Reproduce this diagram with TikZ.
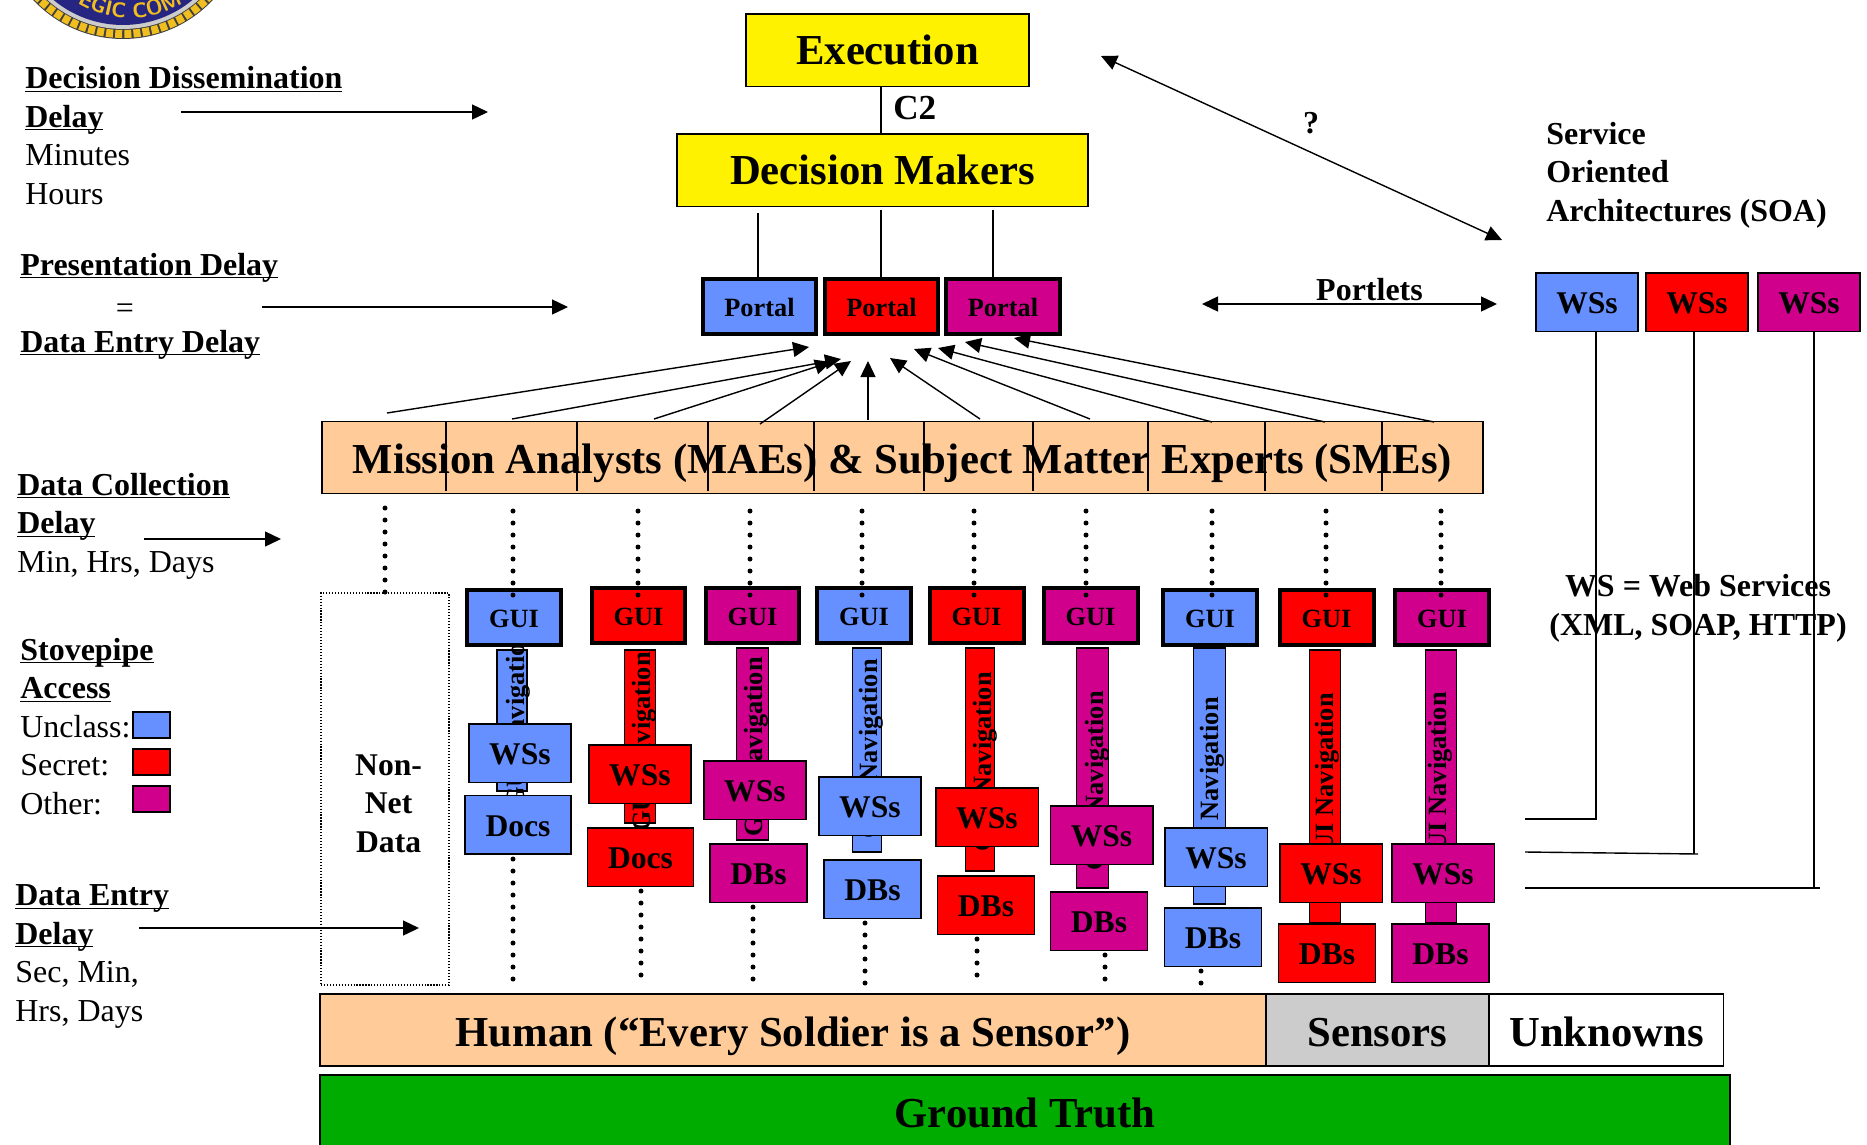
\documentclass[tikz,border=0pt]{standalone}
\usepackage{fontspec}
\setmainfont{Liberation Serif}
\usetikzlibrary{arrows.meta, decorations.text}
\definecolor{unclass}{RGB}{102, 144, 255}
\definecolor{secret}{RGB}{255, 0, 0}
\definecolor{other}{RGB}{208, 0, 140}
\definecolor{peach}{RGB}{255, 204, 153}
\definecolor{sensgray}{RGB}{204, 204, 204}
\definecolor{truthgreen}{RGB}{0, 172, 0}
\definecolor{sealblue}{RGB}{38, 38, 130}
\definecolor{sealgold}{RGB}{240, 190, 30}
\newcommand{\bul}[1]{\underline{\smash{\textbf{#1}}}}
\tikzset{
  base box/.style={draw=black, rectangle, inner sep=0pt, outer sep=0pt, text depth=0pt},
  big box/.style={base box, line width=.03cm, text height=18.2pt, font=\fontsize{24.3}{29}\selectfont\bfseries},
  gui box/.style={base box, fill=#1, line width=.08cm, minimum width=1.88cm, minimum height=1.1cm, text height=12.5pt, font=\fontsize{15}{18}\selectfont\bfseries},
  portal box/.style={gui box=#1, minimum width=2.28cm},
  ws box/.style={base box, fill=#1, line width=.03cm, minimum width=2.05cm, minimum height=1.17cm, text height=13.5pt, font=\fontsize{18}{22}\selectfont\bfseries},
  db box/.style={ws box=#1, minimum width=1.94cm},
  doc box/.style={ws box=#1, minimum width=2.12cm},
  nav strip/.style={draw=black, fill=#1, rectangle, line width=.03cm, inner sep=0pt, outer sep=0pt},
  nav text/.style={rotate=90, anchor=base, inner sep=0pt, font=\fontsize{15}{18}\selectfont\bfseries},
  swatch/.style={draw=black, fill=#1, line width=.04cm, minimum width=.74cm, minimum height=.52cm, inner sep=0pt},
  side text/.style={anchor=base west, align=left, inner sep=0pt, font=\fontsize{18.2}{21.9}\selectfont},
  head text/.style={side text, font=\fontsize{18.2}{21.9}\selectfont\bfseries},
  conn/.style={line width=.028cm, draw=black},
  tip/.style={conn, -{Triangle[length=.32cm, width=.3cm]}},
  two tip/.style={conn, {Triangle[length=.32cm, width=.3cm]}-{Triangle[length=.32cm, width=.3cm]}},
  dot line/.style={line width=.1cm, line cap=round, dash pattern=on 0pt off .24cm},
}
\begin{document}
\begin{tikzpicture}[x=0.02cm, y=-0.02cm]
  \useasboundingbox (0,0) rectangle (1867,1144);

  % Seal, cut by the top edge
  \begin{scope}
    \clip (0,0) rectangle (300,60);
    \fill[black!75] (123,-84) circle (2.46cm);
    \draw[sealgold, line width=.16cm, dash pattern=on 4pt off 1.2pt] (123,-84) circle (2.36cm);
    \fill[black!20] (123,-84) circle (2.26cm);
    \fill[sealblue] (123,-84) circle (2.18cm);
    \path[decorate, decoration={text along path, text align=center, text={|\fontsize{12}{14}\selectfont\sffamily\bfseries\color{sealgold}|EGIC COM}}]
      (40,-36) .. controls (78.4,36) and (181.6,36) .. (220,-36);
  \end{scope}

  % Top of the chain
  \node[big box, fill=yellow, text height=17pt, minimum width=5.67cm, minimum height=1.45cm] (exec) at (887.5,50) {Execution};
  \node[big box, fill=yellow, text height=17pt, minimum width=8.23cm, minimum height=1.45cm] (dmakers) at (882.5,170) {Decision Makers};
  \node[inner sep=0pt, anchor=base west, font=\fontsize{20}{24}\selectfont\bfseries] (ctwo) at (893,119) {C2};
  \draw[conn] (exec.south -| 881,0) -- (dmakers.north -| 881,0);

  % Portals
  \node[portal box=unclass] (portal1) at (759.5,306) {Portal};
  \node[portal box=secret] (portal2) at (881.5,306) {Portal};
  \node[portal box=other] (portal3) at (1003,306) {Portal};
  \coordinate (feed1) at (758,213);
  \coordinate (feed2) at (881,210);
  \coordinate (feed3) at (993,210);
  \draw[conn] (feed1) -- (feed1 |- portal1.north);
  \draw[conn] (feed2) -- (feed2 |- portal2.north);
  \draw[conn] (feed3) -- (feed3 |- portal3.north);

  % Analysts bar
  \node[big box, fill=peach, line width=.03cm, minimum width=23.22cm, minimum height=1.44cm] (mae) at (902.5,457.5) {Mission Analysts (MAEs) \& Subject Matter Experts (SMEs)};
  \draw[line width=.024cm] (446,421) -- (446,491) (577,421) -- (577,491) (708,421) -- (708,491) (814,421) -- (814,491) (924,421) -- (924,491) (1033,421) -- (1033,491) (1148,421) -- (1148,491) (1265,421) -- (1265,491) (1382,421) -- (1382,491);

  % Arrows up to the portals
  \coordinate (from1) at (387,413); \coordinate (to1) at (809,347);
  \coordinate (from2) at (512,419); \coordinate (to2) at (841,359);
  \coordinate (from3) at (654,419); \coordinate (to3) at (831,362);
  \coordinate (from4) at (760,424); \coordinate (to4) at (851,361);
  \coordinate (from5) at (868,420); \coordinate (to5) at (868,361);
  \coordinate (from6) at (980,419); \coordinate (to6) at (890,358);
  \coordinate (from7) at (1090,419); \coordinate (to7) at (914,349);
  \coordinate (from8) at (1212,422); \coordinate (to8) at (938,348);
  \coordinate (from9) at (1325,422); \coordinate (to9) at (965,342);
  \coordinate (from10) at (1434,422); \coordinate (to10) at (1014,338);
  \draw[tip] (from1) -- (to1);
  \draw[tip] (from2) -- (to2);
  \draw[tip] (from3) -- (to3);
  \draw[tip] (from4) -- (to4);
  \draw[tip] (from5) -- (to5);
  \draw[tip] (from6) -- (to6);
  \draw[tip] (from7) -- (to7);
  \draw[tip] (from8) -- (to8);
  \draw[tip] (from9) -- (to9);
  \draw[tip] (from10) -- (to10);

  % Non-net data
  \node[draw=black, densely dotted, line width=.024cm, minimum width=2.56cm, minimum height=7.84cm, inner sep=0pt] (nonnet) at (385,789) {};
  \node[anchor=base, align=center, inner sep=0pt, font=\fontsize{18}{21.9}\selectfont\bfseries] (nonnettext) at (388.6,852) {Non-\\Net\\Data};
  \coordinate (nonnetdot) at (385,592);
  \draw[dot line, shorten >=.27cm] (nonnetdot) -- (mae.south -| nonnetdot);

  % Navigation strips
  \node[nav strip=unclass, minimum width=.6cm, minimum height=2.82cm] (nav1) at (512,720.5) {};
  \node[nav text] (navtext1) at (524,718) {GUI Navigation};
  \node[nav strip=secret, minimum width=.62cm, minimum height=3.46cm] (nav2) at (640,736.5) {};
  \node[nav text] (navtext2) at (650,742) {GUI Navigation};
  \node[nav strip=other, minimum width=.64cm, minimum height=3.84cm] (nav3) at (752.5,744) {};
  \node[nav text] (navtext3) at (762,747) {GUI Navigation};
  \node[nav strip=unclass, minimum width=.58cm, minimum height=4.08cm] (nav4) at (867,750) {};
  \node[nav text] (navtext4) at (877,749) {GUI Navigation};
  \node[nav strip=secret, minimum width=.58cm, minimum height=4.46cm] (nav5) at (980,759.5) {};
  \node[nav text] (navtext5) at (991,762) {GUI Navigation};
  \node[nav strip=other, minimum width=.64cm, minimum height=4.8cm] (nav6) at (1092.5,768) {};
  \node[nav text] (navtext6) at (1103,781) {GUI Navigation};
  \node[nav strip=unclass, minimum width=.64cm, minimum height=5.12cm] (nav7) at (1209.5,776) {};
  \node[nav text] (navtext7) at (1218,787) {GUI Navigation};
  \node[nav strip=secret, minimum width=.62cm, minimum height=5.46cm] (nav8) at (1325,786.5) {};
  \node[nav text] (navtext8) at (1333,783) {GUI Navigation};
  \node[nav strip=other, minimum width=.62cm, minimum height=5.46cm] (nav9) at (1441,786.5) {};
  \node[nav text] (navtext9) at (1446,782) {GUI Navigation};

  % Stovepipes
  \node[gui box=unclass] (gui1) at (514,617) {GUI};
  \node[ws box=unclass] (ws1) at (520,753) {WSs};
  \node[doc box=unclass] (doc1) at (518,824.5) {Docs};
  \node[gui box=secret] (gui2) at (638.5,615) {GUI};
  \node[ws box=secret] (ws2) at (640,774) {WSs};
  \node[doc box=secret] (doc2) at (640.5,857) {Docs};
  \node[gui box=other] (gui3) at (752.5,615) {GUI};
  \node[ws box=other] (ws3) at (755,790) {WSs};
  \node[db box=other] (db3) at (758.5,873) {DBs};
  \node[gui box=unclass] (gui4) at (864,615) {GUI};
  \node[ws box=unclass] (ws4) at (870,806) {WSs};
  \node[db box=unclass] (db4) at (872.5,889) {DBs};
  \node[gui box=secret] (gui5) at (976.5,615) {GUI};
  \node[ws box=secret] (ws5) at (987,817) {WSs};
  \node[db box=secret] (db5) at (986,905) {DBs};
  \node[gui box=other] (gui6) at (1090.5,615) {GUI};
  \node[ws box=other] (ws6) at (1101.5,835) {WSs};
  \node[db box=other] (db6) at (1099,921) {DBs};
  \node[gui box=unclass] (gui7) at (1210,617) {GUI};
  \node[ws box=unclass] (ws7) at (1216,857) {WSs};
  \node[db box=unclass] (db7) at (1213,937) {DBs};
  \node[gui box=secret] (gui8) at (1326.5,617) {GUI};
  \node[ws box=secret] (ws8) at (1331,873) {WSs};
  \node[db box=secret] (db8) at (1327,953) {DBs};
  \node[gui box=other] (gui9) at (1442,617) {GUI};
  \node[ws box=other] (ws9) at (1443,873) {WSs};
  \node[db box=other] (db9) at (1440.5,953) {DBs};

  % Dots from the bar down to each GUI
  \coordinate (dotgui1) at (513,595); \draw[dot line, shorten >=.27cm] (dotgui1) -- (mae.south -| dotgui1);
  \coordinate (dotgui2) at (638,595); \draw[dot line, shorten >=.27cm] (dotgui2) -- (mae.south -| dotgui2);
  \coordinate (dotgui3) at (750,595); \draw[dot line, shorten >=.27cm] (dotgui3) -- (mae.south -| dotgui3);
  \coordinate (dotgui4) at (862,595); \draw[dot line, shorten >=.27cm] (dotgui4) -- (mae.south -| dotgui4);
  \coordinate (dotgui5) at (974,595); \draw[dot line, shorten >=.27cm] (dotgui5) -- (mae.south -| dotgui5);
  \coordinate (dotgui6) at (1086,595); \draw[dot line, shorten >=.27cm] (dotgui6) -- (mae.south -| dotgui6);
  \coordinate (dotgui7) at (1212,595); \draw[dot line, shorten >=.27cm] (dotgui7) -- (mae.south -| dotgui7);
  \coordinate (dotgui8) at (1326,595); \draw[dot line, shorten >=.27cm] (dotgui8) -- (mae.south -| dotgui8);
  \coordinate (dotgui9) at (1441,595); \draw[dot line, shorten >=.27cm] (dotgui9) -- (mae.south -| dotgui9);

  % Dots below the stores
  \coordinate (dotlow1) at (513,979); \draw[dot line] (dotlow1) -- (doc1.south -| dotlow1);
  \coordinate (dotlow2) at (641,975); \draw[dot line] (dotlow2) -- (doc2.south -| dotlow2);
  \coordinate (dotlow3) at (753,979); \draw[dot line] (dotlow3) -- (db3.south -| dotlow3);
  \coordinate (dotlow4) at (865,983); \draw[dot line] (dotlow4) -- (db4.south -| dotlow4);
  \coordinate (dotlow5) at (977,975); \draw[dot line] (dotlow5) -- (db5.south -| dotlow5);
  \coordinate (dotlow6) at (1105,979); \draw[dot line] (dotlow6) -- (db6.south -| dotlow6);
  \coordinate (dotlow7) at (1201,983); \draw[dot line] (dotlow7) -- (db7.south -| dotlow7);

  % Sources
  \node[big box, fill=peach, minimum width=18.92cm, minimum height=1.44cm] (human) at (793,1030) {Human (``Every Soldier is a Sensor'')};
  \node[big box, fill=sensgray, minimum width=4.46cm, minimum height=1.44cm] (sensors) at (1377.5,1030) {Sensors};
  \node[big box, fill=white, minimum width=4.68cm, minimum height=1.44cm] (unknowns) at (1606.5,1030) {Unknowns};
  \node[big box, fill=truthgreen, text height=19pt, minimum width=28.2cm, minimum height=1.42cm] (truth) at (1025,1110.5) {Ground Truth};

  % Service side
  \node[head text] (soa) at (1546,221) {Service\\Oriented\\Architectures (SOA)};
  \node[ws box=unclass, minimum width=2.04cm] (rws1) at (1587,302) {WSs};
  \node[ws box=secret, minimum width=2.04cm] (rws2) at (1697,302) {WSs};
  \node[ws box=other, minimum width=2.04cm] (rws3) at (1809,302) {WSs};
  \node[inner sep=0pt, anchor=base, font=\fontsize{18.2}{21.9}\selectfont\bfseries] (portlets) at (1369.5,300) {Portlets};
  \coordinate (portletl) at (1202,304);
  \coordinate (portletr) at (1497,304);
  \draw[two tip] (portletl) -- (portletr);
  \coordinate (askl) at (1101,56);
  \coordinate (askr) at (1502,240);
  \draw[two tip] (askl) -- (askr);
  \node[inner sep=0pt, anchor=base, font=\fontsize{18.2}{21.9}\selectfont\bfseries] (ask) at (1311,133) {?};

  % Links from the stovepipes to the services
  \coordinate (link1) at (1525,819); \coordinate (bend1) at (1596,819);
  \coordinate (link2) at (1525,852); \coordinate (bend2) at (1698,854); \coordinate (rise2) at (1694,854);
  \coordinate (link3) at (1525,888); \coordinate (bend3) at (1820,888); \coordinate (rise3) at (1814,888);
  \draw[conn] (link1) -- (bend1) -- (bend1 |- rws1.south);
  \draw[conn] (link2) -- (bend2);
  \draw[conn] (rise2) -- (rise2 |- rws2.south);
  \draw[conn] (link3) -- (bend3);
  \draw[conn] (rise3) -- (rise3 |- rws3.south);
  \node[anchor=base, align=center, inner sep=0pt, font=\fontsize{18.2}{21.9}\selectfont\bfseries] (wsnote) at (1698,635) {WS = Web Services\\(XML, SOAP, HTTP)};

  % Delay labels
  \node[side text] (dissem) at (25,204) {\bul{Decision Dissemination}\\\bul{Delay}\\Minutes\\Hours};
  \coordinate (dissemstart) at (181,112);
  \coordinate (dissemend) at (488,112);
  \draw[tip] (dissemstart) -- (dissemend);
  \node[side text] (present) at (20,275) {\bul{Presentation Delay}};
  \node[inner sep=0pt, anchor=base, font=\fontsize{18.2}{21.9}\selectfont] (equals) at (125,318) {=};
  \node[side text] (entry) at (20,352) {\bul{Data Entry Delay}};
  \coordinate (presentstart) at (262,307);
  \coordinate (presentend) at (568,307);
  \draw[tip] (presentstart) -- (presentend);
  \node[side text] (collect) at (17,572) {\bul{Data Collection}\\\bul{Delay}\\Min, Hrs, Days};
  \coordinate (collectstart) at (144,539);
  \coordinate (collectend) at (281,539);
  \draw[tip] (collectstart) -- (collectend);
  \node[side text] (stove) at (20,814) {\bul{Stovepipe}\\\bul{Access}\\Unclass:\\Secret:\\Other:};
  \node[swatch=unclass] (swatch1) at (151.5,724.5) {};
  \node[swatch=secret] (swatch2) at (151.5,761.5) {};
  \node[swatch=other] (swatch3) at (151.5,798.5) {};
  \node[side text] (dataentry) at (15,1021) {\bul{Data Entry}\\\bul{Delay}\\Sec, Min,\\Hrs, Days};
  \coordinate (entrystart) at (139,928);
  \coordinate (entryend) at (419,928);
  \draw[tip] (entrystart) -- (entryend);
\end{tikzpicture}
\end{document}
